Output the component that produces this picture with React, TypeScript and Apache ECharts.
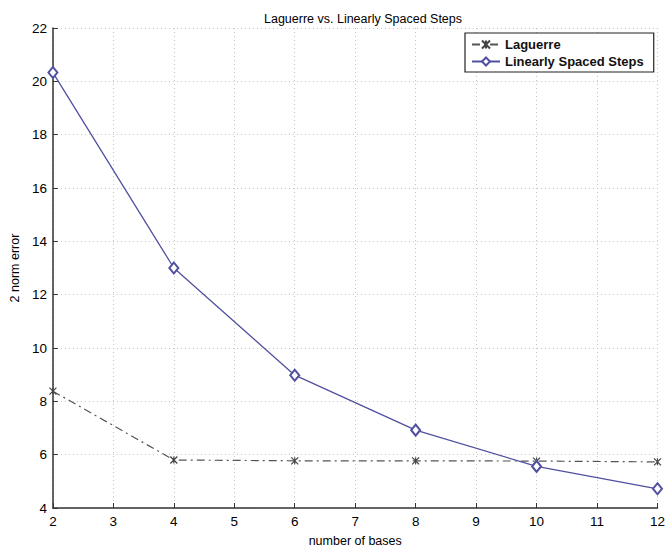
import React, { useEffect, useRef } from "react";
import * as echarts from "echarts";

const titleText = "Laguerre vs. Linearly Spaced Steps";
const xName = "number of bases";
const yName = "2 norm error";
const seriesNames = ["Laguerre", "Linearly Spaced Steps"];
const bases = [2, 4, 6, 8, 10, 12];
const laguerre = [8.38, 5.8, 5.77, 5.77, 5.76, 5.73];
const linear = [20.33, 13.0, 8.98, 6.92, 5.56, 4.72];

const FONT = "Liberation Sans, Arial, Helvetica, sans-serif";
const asterisk = "path://M0,0L10,10M10,0L0,10M5,0L5,10";

export default function App() {
  const ref = useRef<HTMLDivElement>(null);
  useEffect(() => {
    if (!ref.current) return;
    const chart = echarts.init(ref.current, undefined, { renderer: "svg" });
    chart.setOption({
      animation: false,
      backgroundColor: "#ffffff",
      title: {
        text: titleText,
        left: 358,
        textAlign: "center",
        top: 7,
        textStyle: { fontFamily: FONT, fontSize: 12.5, fontWeight: "normal", color: "#000" },
      },
      legend: {
        left: 465,
        top: 33,
        orient: "vertical",
        itemWidth: 28,
        itemHeight: 10,
        itemGap: 4,
        padding: [5, 10, 4, 6],
        borderColor: "#222",
        borderWidth: 1.2,
        backgroundColor: "#fff",
        textStyle: { fontFamily: FONT, fontSize: 13, fontWeight: "bold", color: "#111" },
        data: seriesNames,
      },
      grid: { left: 52, right: 6, top: 28, bottom: 42, containLabel: false },
      xAxis: {
        type: "value",
        min: 2,
        max: 12,
        interval: 1,
        name: xName,
        nameLocation: "middle",
        nameGap: 26,
        nameTextStyle: { fontFamily: FONT, fontSize: 12.5, color: "#000" },
        axisLine: { show: true, onZero: false, lineStyle: { color: "#333", width: 1.5 } },
        axisTick: { show: true, inside: true, length: 5, lineStyle: { color: "#333" } },
        axisLabel: { fontFamily: FONT, fontSize: 13.5, color: "#000", margin: 6 },
        splitLine: { show: true, lineStyle: { color: "#c4c4c4", type: [1, 3], width: 1 } },
      },
      yAxis: {
        type: "value",
        min: 4,
        max: 22,
        interval: 2,
        name: yName,
        nameLocation: "middle",
        nameGap: 29,
        nameTextStyle: { fontFamily: FONT, fontSize: 12.5, color: "#000" },
        axisLine: { show: true, onZero: false, lineStyle: { color: "#333", width: 1.5 } },
        axisTick: { show: true, inside: true, length: 5, lineStyle: { color: "#333" } },
        axisLabel: { fontFamily: FONT, fontSize: 13.5, color: "#000", margin: 6 },
        splitLine: { show: true, lineStyle: { color: "#c4c4c4", type: [1, 3], width: 1 } },
      },
      series: [
        {
          name: seriesNames[0],
          type: "line",
          data: bases.map((b, i) => [b, laguerre[i]]),
          symbol: asterisk,
          symbolSize: 7,
          lineStyle: { color: "#555", width: 1.2, type: [8, 4, 2, 4] },
          itemStyle: { color: "rgba(0,0,0,0)", borderColor: "#444", borderWidth: 1.2 },
        },
        {
          name: seriesNames[1],
          type: "line",
          data: bases.map((b, i) => [b, linear[i]]),
          symbol: "emptyDiamond",
          symbolSize: [9, 11],
          lineStyle: { color: "#5050a0", width: 1.3 },
          itemStyle: { color: "#5050a0", borderColor: "#5050a0", borderWidth: 1.4 },
        },
      ],
    });
    return () => chart.dispose();
  }, []);
  return (
    <div
      ref={ref}
      style={{ position: "fixed", left: 0, top: 0, width: 668, height: 552 }}
    />
  );
}
